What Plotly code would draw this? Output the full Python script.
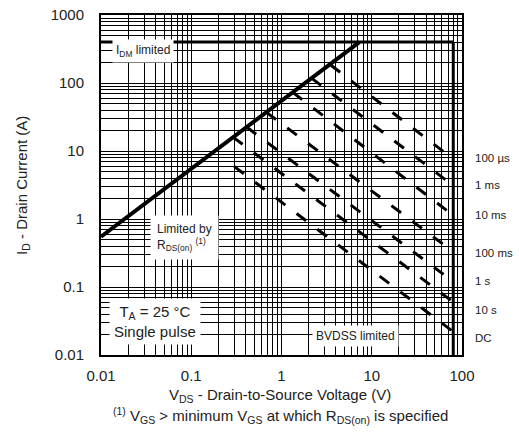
import plotly.graph_objects as go

# ---- data ----
x_ticks = [0.01, 0.1, 1, 10, 100]
x_tick_text = ["0.01", "0.1", "1", "10", "100"]
y_ticks = [0.01, 0.1, 1, 10, 100, 1000]
y_tick_text = ["0.01", "0.1", "1", "10", "100", "1000"]

# RDS(on) limit line (V, A)
rds_v = [0.01, 7.3]
rds_i = [0.55, 400]

# IDM limit (A) and BVDSS limit (V)
idm_v = [0.01, 80]
idm_i = [400, 400]
bv_v = [80, 80]
bv_i = [400, 0.01]

# pulse-width lines
pulse_labels = ["100 µs", "1 ms", "10 ms", "100 ms", "1 s", "10 s", "DC"]
pulse_v_start = [3.5, 2.15, 1.33, 0.68, 0.41, 0.29, 0.30]
pulse_i_start = [184, 118, 73, 37, 22.5, 16, 5.9]
pulse_v_end = [80, 80, 80, 80, 80, 80, 80]
pulse_i_end = [7.6, 3.1, 1.13, 0.33, 0.12, 0.06, 0.022]
# vertical position (paper) of the right-hand labels
pulse_label_y = [0.579, 0.50, 0.412, 0.30, 0.218, 0.132, 0.05]

FONT = "Liberation Sans, Arial, sans-serif"
TXT = "#222222"

fig = go.Figure()

for v0, i0, v1, i1 in zip(pulse_v_start, pulse_i_start, pulse_v_end, pulse_i_end):
    fig.add_trace(go.Scatter(x=[v0, v1], y=[i0, i1], mode="lines",
                             line=dict(color="black", width=3, dash="12px,14px"),
                             hoverinfo="skip", showlegend=False))

fig.add_trace(go.Scatter(x=idm_v, y=idm_i, mode="lines",
                         line=dict(color="black", width=3), showlegend=False))
fig.add_trace(go.Scatter(x=bv_v, y=bv_i, mode="lines",
                         line=dict(color="black", width=3), showlegend=False))
fig.add_trace(go.Scatter(x=rds_v, y=rds_i, mode="lines",
                         line=dict(color="black", width=4), showlegend=False))


def minor_vals(lo, hi):
    vals = []
    for d in range(lo, hi):
        for m in range(2, 10):
            vals.append(m * 10 ** d)
    return vals


axis_common = dict(
    type="log", showline=True, linecolor="black", linewidth=2, mirror=True,
    showgrid=True, gridcolor="black", gridwidth=1.2, zeroline=False,
    ticks="", automargin=False, tickfont=dict(family=FONT, size=15, color=TXT),
)

fig.update_xaxes(range=[-2, 2], tickvals=x_ticks, ticktext=x_tick_text,
                 ticklabelstandoff=6,
                 minor=dict(tickmode="array", tickvals=minor_vals(-2, 2), showgrid=True,
                            gridcolor="black", gridwidth=1),
                 **axis_common)
fig.update_yaxes(range=[-2, 3], tickvals=y_ticks, ticktext=y_tick_text,
                 ticklabelstandoff=12,
                 minor=dict(tickmode="array", tickvals=minor_vals(-2, 3), showgrid=True,
                            gridcolor="black", gridwidth=1),
                 **axis_common)

annotations = []
for lab, yy in zip(pulse_labels, pulse_label_y):
    annotations.append(dict(text=lab, x=1.03, y=yy, xref="paper", yref="paper",
                            xanchor="left", yanchor="middle", showarrow=False,
                            font=dict(family=FONT, size=11.5, color=TXT)))

box = dict(showarrow=False, xref="paper", yref="paper", bgcolor="white",
           xanchor="center", yanchor="middle")
annotations += [
    dict(text="I<sub>DM</sub> limited", x=0.116, y=0.894, borderpad=3,
         font=dict(family=FONT, size=12, color=TXT), **box),
    dict(text="Limited by<br>R<sub>DS(on)</sub> <sup>(1)</sup>", x=0.232, y=0.347,
         align="left", borderpad=6, font=dict(family=FONT, size=12, color=TXT), **box),
    dict(text="T<sub>A</sub> = 25 °C<br>Single pulse", x=0.15, y=0.10, borderpad=4,
         font=dict(family=FONT, size=15, color=TXT), **box),
    dict(text="BVDSS limited", x=0.704, y=0.056, borderpad=3,
         font=dict(family=FONT, size=12, color=TXT), **box),
    dict(text="V<sub>DS</sub> - Drain-to-Source Voltage (V)", x=0.496, y=-0.118,
         xref="paper", yref="paper", showarrow=False, xanchor="center", yanchor="middle",
         font=dict(family=FONT, size=15, color=TXT)),
    dict(text="<sup>(1)</sup> V<sub>GS</sub> > minimum V<sub>GS</sub> at which R<sub>DS(on)</sub> is specified",
         x=0.496, y=-0.179, xref="paper", yref="paper", showarrow=False,
         xanchor="center", yanchor="middle", font=dict(family=FONT, size=15, color=TXT)),
    dict(text="I<sub>D</sub> - Drain Current (A)", x=-0.219, y=0.5, textangle=-90,
         xref="paper", yref="paper", showarrow=False, xanchor="center", yanchor="middle",
         font=dict(family=FONT, size=15, color=TXT)),
]

fig.update_layout(
    width=519, height=438,
    margin=dict(l=101, r=57, t=15, b=83),
    paper_bgcolor="white", plot_bgcolor="white",
    showlegend=False, annotations=annotations,
)

fig.write_html("out.html", config={"displayModeBar": False},
               post_script="document.body.style.margin='0';")
